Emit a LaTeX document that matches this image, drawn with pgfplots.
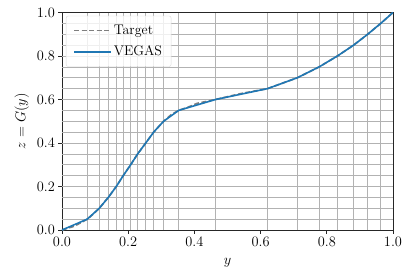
\documentclass[border=0pt]{standalone}
\usepackage{pgfplots}
\pgfplotsset{compat=1.18}
\usetikzlibrary{calc}
\definecolor{mplblue}{HTML}{1F77B4}
\definecolor{mplgray}{HTML}{7F7F7F}
\begin{document}
\begin{tikzpicture}
\begin{axis}[
  scale only axis,
  width=331pt, height=217.5pt,
  xmin=0, xmax=1, ymin=0, ymax=1,
  tick label style={font=\fontsize{14}{17}\selectfont},
  label style={font=\fontsize{14}{17}\selectfont},
  xtick={0,0.2,0.4,0.6,0.8,1.0},
  ytick={0,0.2,0.4,0.6,0.8,1.0},
  xticklabels={$0.0$,$0.2$,$0.4$,$0.6$,$0.8$,$1.0$},
  yticklabels={$0.0$,$0.2$,$0.4$,$0.6$,$0.8$,$1.0$},
  tick align=outside,
  tick pos=left,
  major tick length=3.5pt,
  every tick/.style={black!85, line width=0.8pt},
  axis line style={black!85, line width=0.8pt},
  extra x ticks={0.0764,0.1127,0.140,0.164,0.185,0.2075,0.2287,0.253,0.277,0.307,0.3526,0.464,0.621,0.711,0.777,0.832,0.881,0.9235,0.963},
  extra x tick labels={},
  extra x tick style={xmajorgrids=true, tick style={draw=none}},
  extra y ticks={0.05,0.1,0.15,0.2,0.25,0.3,0.35,0.4,0.45,0.5,0.55,0.6,0.65,0.7,0.75,0.8,0.85,0.9,0.95},
  extra y tick labels={},
  extra y tick style={ymajorgrids=true, tick style={draw=none}},
  major grid style={black!30, line width=0.7pt},
  xlabel={$y$},
  ylabel={$z = G(y)$},
  xlabel style={yshift=2pt},
  ylabel style={yshift=-6pt},
  legend style={at={(0.012,0.985)}, anchor=north west, draw=black!15, fill=white, fill opacity=0.8, text opacity=1, draw opacity=1, rounded corners=2pt, inner xsep=7pt, inner ysep=7pt, row sep=6pt, font=\fontsize{14}{17}\selectfont},
  legend cell align=left,
  legend image code/.code={\draw[#1] plot coordinates {(0pt,0pt) (32pt,0pt)}; \path (0pt,0pt) -- (37pt,0pt);},
]
\addplot[mplgray, line width=1.7pt, dash pattern=on 5pt off 2.5pt] coordinates {
(0,0) (0.038,0.018) (0.0764,0.05) (0.095,0.074) (0.1127,0.10) (0.140,0.15) (0.164,0.20) (0.185,0.25) (0.2075,0.30) (0.2287,0.35) (0.253,0.40) (0.277,0.45) (0.307,0.50) (0.33,0.53) (0.3526,0.55) (0.38,0.564) (0.408,0.582) (0.464,0.60) (0.54,0.627) (0.621,0.65) (0.711,0.70) (0.777,0.75) (0.832,0.80) (0.881,0.85) (0.9235,0.90) (0.963,0.95) (1,1)
};
\addlegendentry{Target}
\addplot[mplblue, line width=1.6pt] coordinates {
(0,0) (0.0764,0.05) (0.1127,0.10) (0.140,0.15) (0.164,0.20) (0.185,0.25) (0.2075,0.30) (0.2287,0.35) (0.253,0.40) (0.277,0.45) (0.307,0.50) (0.3526,0.55) (0.464,0.60) (0.621,0.65) (0.711,0.70) (0.777,0.75) (0.832,0.80) (0.881,0.85) (0.9235,0.90) (0.963,0.95) (1,1)
};
\addlegendentry{VEGAS}
\end{axis}
\useasboundingbox ($(current axis.south west)+(-62pt,-41pt)$) rectangle ($(current axis.north east)+(14pt,12.5pt)$);
\end{tikzpicture}
\end{document}
